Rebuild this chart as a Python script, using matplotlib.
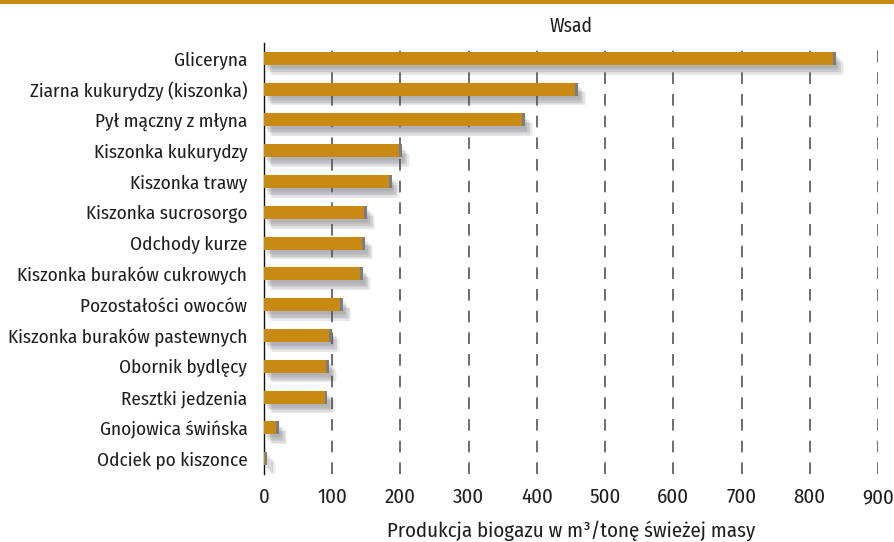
import matplotlib
matplotlib.use("Agg")
import matplotlib.pyplot as plt
import matplotlib.patheffects as pe
from matplotlib.lines import Line2D

# data
categories = [
    "Gliceryna",
    "Ziarna kukurydzy (kiszonka)",
    "Pył mączny z młyna",
    "Kiszonka kukurydzy",
    "Kiszonka trawy",
    "Kiszonka sucrosorgo",
    "Odchody kurze",
    "Kiszonka buraków cukrowych",
    "Pozostałości owoców",
    "Kiszonka buraków pastewnych",
    "Obornik bydlęcy",
    "Resztki jedzenia",
    "Gnojowica świńska",
    "Odciek po kiszonce",
]
biogas = [838, 460, 382, 202, 187, 151, 148, 145, 116, 99, 95, 93, 22, 5]
x_ticks = [0, 100, 200, 300, 400, 500, 600, 700, 800, 900]

ORANGE = "#C98A14"
CAP = "#7d7d80"
TXT = "#1e1e1e"

plt.rcParams["font.family"] = ["Fira Sans Condensed", "PT Sans Narrow", "DejaVu Sans"]

fig = plt.figure(figsize=(8.94, 5.42), dpi=100)
ax = fig.add_axes([264 / 894, 1 - 474 / 542, (878 - 264) / 894, (474 - 43) / 542])

ypos = list(range(len(categories)))

# soft shadow built from stacked offset shadows
shadow = [
    pe.SimplePatchShadow(offset=(dx, dy), shadow_rgbFace="#55555f", alpha=0.07)
    for dx, dy in [(1, -2), (2, -3), (3, -4), (4, -5), (5, -6), (2, -5), (4, -7), (6, -7)]
]
bars = ax.barh(ypos, biogas, height=0.42, color=ORANGE, zorder=3)
for b in bars:
    b.set_path_effects(shadow + [pe.Normal()])

# grey end caps
cap_w = 4
ax.barh(ypos, [cap_w] * len(biogas), left=[max(v - cap_w, 0) for v in biogas],
        height=0.42, color=CAP, zorder=4)

ax.set_ylim(len(categories) - 0.5, -0.5)
ax.set_xlim(0, 900)
ax.set_yticks(ypos)
ax.set_yticklabels(categories, fontsize=13.8, color=TXT)
ax.set_xticks(x_ticks)
ax.set_xticklabels([str(t) for t in x_ticks], fontsize=15, color=TXT)
ax.tick_params(axis="both", length=0)
ax.tick_params(axis="y", pad=12)
ax.tick_params(axis="x", pad=10)

for t in x_ticks[1:]:
    ax.axvline(t, color="#555555", lw=1.2, dashes=(7, 6), zorder=1)

for s in ["top", "right", "bottom"]:
    ax.spines[s].set_visible(False)
ax.spines["left"].set_color("#111111")
ax.spines["left"].set_linewidth(1.0)

ax.set_title("Wsad", fontsize=14, color=TXT, pad=8)
ax.set_xlabel("Produkcja biogazu w m³/tonę świeżej masy", fontsize=15,
              color=TXT, labelpad=9)

# orange rule along the top edge
fig.add_artist(Line2D([0, 1], [1 - 2 / 542, 1 - 2 / 542], color=ORANGE, lw=3,
                      transform=fig.transFigure))

fig.savefig("out.png", dpi=100)
